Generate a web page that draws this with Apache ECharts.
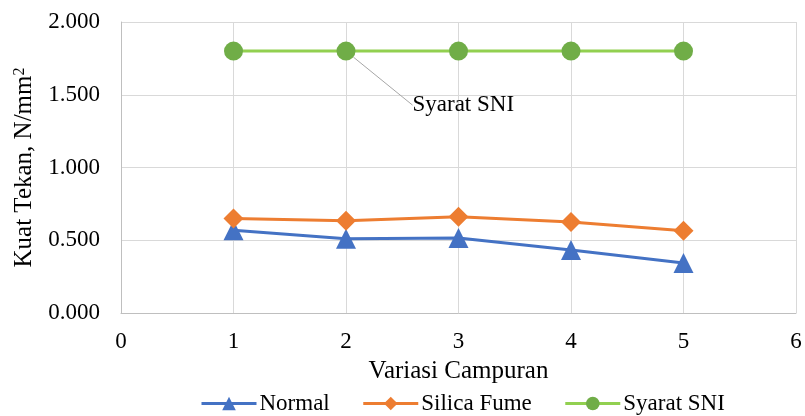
<!DOCTYPE html>
<html><head><meta charset="utf-8">
<script src="https://cdn.jsdelivr.net/npm/echarts@6/dist/echarts.min.js"></script>
<style>html,body{margin:0;padding:0;background:#fff}#c{width:805px;height:416px}</style>
</head><body><div id="c"></div>
<script>
var xValues = [1, 2, 3, 4, 5];
var normal = [0.568, 0.510, 0.515, 0.433, 0.343];
var silicaFume = [0.650, 0.634, 0.662, 0.625, 0.566];
var syaratSNI = [1.8, 1.8, 1.8, 1.8, 1.8];
var yTicks = ['0.000', '0.500', '1.000', '1.500', '2.000'];

function pairs(v) { return xValues.map(function (x, i) { return [x, v[i]]; }); }
var font = 'Liberation Serif, Times New Roman, serif';
var chart = echarts.init(document.getElementById('c'));
var sniData = pairs(syaratSNI).map(function (p, i) {
  if (i === 1) {
    return { value: p, label: { show: true, formatter: 'Syarat SNI', position: 'right', fontFamily: font, fontSize: 23, color: '#000' },
             labelLine: { show: true, lineStyle: { color: '#a6a6a6', width: 1 } } };
  }
  return p;
});
chart.setOption({
  animation: false,
  textStyle: { fontFamily: font },
  grid: { left: 121, right: 9, top: 22, bottom: 103 },
  legend: {
    top: 387, left: 195, itemWidth: 55, itemHeight: 17, itemGap: 32,
    lineStyle: { width: 3 },
    textStyle: { fontFamily: font, fontSize: 23, color: '#000', padding: [0, 0, 0, -2] },
    data: ['Normal', 'Silica Fume', 'Syarat SNI']
  },
  xAxis: {
    type: 'value', min: 0, max: 6, interval: 1,
    name: 'Variasi Campuran', nameLocation: 'middle', nameGap: 46,
    nameTextStyle: { fontFamily: font, fontSize: 25, color: '#000' },
    axisLine: { show: true, lineStyle: { color: '#bfbfbf' } },
    axisTick: { show: false },
    axisLabel: { fontFamily: font, fontSize: 23, color: '#000', margin: 17 },
    splitLine: { show: true, lineStyle: { color: '#d9d9d9' } }
  },
  yAxis: {
    type: 'value', min: 0, max: 2, interval: 0.5,
    name: '{m|Kuat Tekan, N/mm}{s|2}', nameLocation: 'middle', nameGap: 80, nameRotate: 90,
    nameTextStyle: { fontFamily: font, fontSize: 25, color: '#000',
      rich: { m: { fontFamily: font, fontSize: 25, color: '#000', lineHeight: 30 },
              s: { fontFamily: font, fontSize: 16, color: '#000', verticalAlign: 'top', lineHeight: 30, padding: [2, 0, 0, 0] } } },
    axisLine: { show: true, lineStyle: { color: '#bfbfbf' } },
    axisTick: { show: false },
    axisLabel: { fontFamily: font, fontSize: 23, color: '#000', margin: 21,
      formatter: function (v) { return yTicks[Math.round(v / 0.5)]; } },
    splitLine: { show: true, lineStyle: { color: '#d9d9d9' } }
  },
  series: [
    { name: 'Normal', type: 'line', data: pairs(normal), symbol: 'triangle', symbolSize: 20,
      lineStyle: { color: '#4472C4', width: 3 }, itemStyle: { color: '#4472C4' } },
    { name: 'Silica Fume', type: 'line', data: pairs(silicaFume), symbol: 'diamond', symbolSize: 20,
      lineStyle: { color: '#ED7D31', width: 3 }, itemStyle: { color: '#ED7D31' } },
    { name: 'Syarat SNI', type: 'line', data: sniData, symbol: 'circle', symbolSize: 19,
      lineStyle: { color: '#92D050', width: 3 }, itemStyle: { color: '#70AD47' },
      labelLayout: function (p) { if (p.dataIndex === 1) return { dx: 52, dy: 54 }; return {}; },
      labelLine: { show: true, lineStyle: { color: '#a6a6a6', width: 1 } } }
  ]
});
</script></body></html>
